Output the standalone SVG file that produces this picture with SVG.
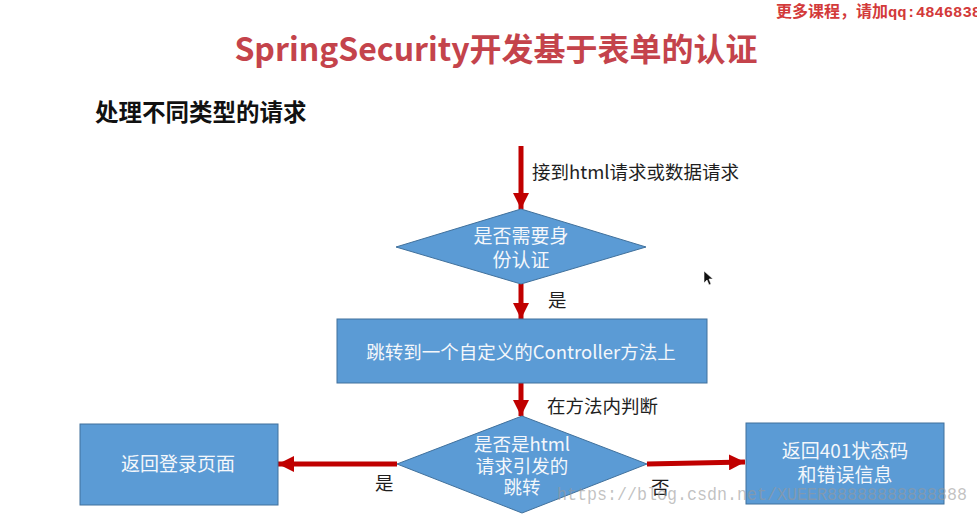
<svg xmlns="http://www.w3.org/2000/svg" width="977" height="520" viewBox="0 0 977 520">
  <defs>
    <marker id="ah" markerUnits="userSpaceOnUse" markerWidth="16" markerHeight="16" viewBox="0 0 14 14" refX="14" refY="7" orient="auto">
      <path d="M0,0 L14,7 L0,14 Z" fill="#c00000"/>
    </marker>
    <style>
      .shape { fill: #5b9bd5; stroke: #41719c; stroke-width: 1; }
      .in { font-family: "Noto Sans CJK SC", "Noto Sans", sans-serif; fill: #f4f7fb; text-anchor: middle; }
      .lbl { font-family: "Noto Sans CJK SC", "Noto Sans", sans-serif; fill: #1e1e1e; font-size: 18.5px; }
      .conn { stroke: #c00000; stroke-width: 5; fill: none; marker-end: url(#ah); }
    </style>
  </defs>
  <rect width="977" height="520" fill="#ffffff"/>

  <text x="776" y="17" font-family="Noto Sans CJK SC, sans-serif" font-weight="bold" font-size="16" fill="#d33a3a">更多课程，请加<tspan x="888" font-family="Liberation Mono, monospace" font-size="15.5">qq:4846838</tspan></text>

  <text x="496" y="61" font-family="Noto Sans CJK SC, Noto Sans, sans-serif" font-weight="bold" font-size="32" fill="#c4434b" text-anchor="middle">SpringSecurity开发基于表单的认证</text>
  <text x="95" y="121" font-family="Noto Sans CJK SC, sans-serif" font-weight="bold" font-size="23.5" fill="#111111">处理不同类型的请求</text>

  <g id="connectors">
    <line class="conn" x1="521" y1="146" x2="521" y2="209"/>
    <line class="conn" x1="521" y1="284" x2="521" y2="319"/>
    <line class="conn" x1="521" y1="383" x2="521" y2="416"/>
    <line class="conn" x1="397" y1="464" x2="278" y2="464"/>
    <line class="conn" x1="647" y1="464" x2="745" y2="462"/>
    <text class="lbl" x="532" y="179">接到html请求或数据请求</text>
    <text class="lbl" x="548" y="307">是</text>
    <text class="lbl" x="547" y="413">在方法内判断</text>
    <text class="lbl" x="375" y="490">是</text>
    <text class="lbl" x="651" y="494">否</text>
  </g>

  <g id="need-auth">
    <polygon class="shape" points="521,209 646,247 521,284 396,247"/>
    <text class="in" x="521" y="243" font-size="19">是否需要身</text>
    <text class="in" x="521" y="267" font-size="19">份认证</text>
  </g>

  <g id="controller">
    <rect class="shape" x="337" y="319" width="370" height="64"/>
    <text class="in" x="521" y="359" font-size="18.5">跳转到一个自定义的Controller方法上</text>
  </g>

  <g id="is-html">
    <polygon class="shape" points="522,416 647,464 522,513 397,464"/>
    <text class="in" x="522" y="451" font-size="18.5">是否是html</text>
    <text class="in" x="522" y="473" font-size="18.5">请求引发的</text>
    <text class="in" x="522" y="494" font-size="18.5">跳转</text>
  </g>

  <g id="login-page">
    <rect class="shape" x="80" y="424" width="198" height="81"/>
    <text class="in" x="178" y="471" font-size="19">返回登录页面</text>
  </g>

  <g id="error-401">
    <rect class="shape" x="746" y="423" width="198" height="81"/>
    <text class="in" x="845" y="458" font-size="19">返回401状态码</text>
    <text class="in" x="845" y="482" font-size="19">和错误信息</text>
  </g>

  <polygon points="704,271 704,283 707,280 709,285 711,284 709,279 713,279 Z" fill="#111111" stroke="#ffffff" stroke-width="0.6"/>

  <text x="557" y="500" font-family="Liberation Mono, monospace" font-size="18" textLength="410" lengthAdjust="spacingAndGlyphs" fill="#999999" fill-opacity="0.6">https://blog.csdn.net/XUEER88888888888888</text>
</svg>
